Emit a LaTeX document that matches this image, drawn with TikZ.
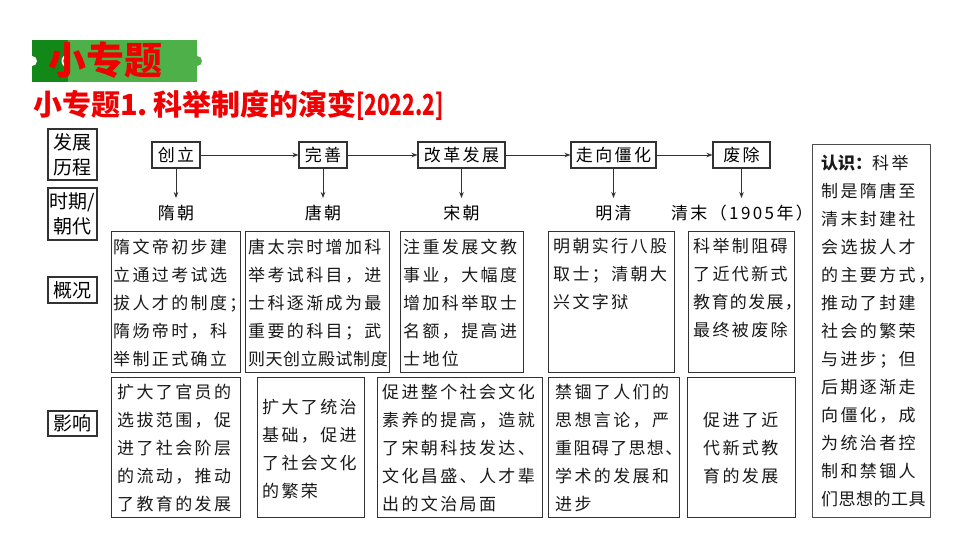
\documentclass[tikz,border=0pt]{standalone}
\usepackage{fontspec}
\usetikzlibrary{arrows.meta}
\newfontfamily\kai[LetterSpace=14]{Noto Sans CJK SC}
\newfontfamily\kaim[LetterSpace=8]{Noto Sans CJK SC}
\newfontfamily\kait[LetterSpace=3]{Noto Sans CJK SC}
\newfontfamily\hei{Noto Sans CJK SC}
\definecolor{tred}{RGB}{240,0,0}
\definecolor{dgreen}{RGB}{18,136,24}
\definecolor{lgreen}{RGB}{78,176,72}
\definecolor{bline}{RGB}{50,50,50}
\newcommand\ftop{\rule{0pt}{16pt}}
\tikzset{
 box/.style={draw=bline, line width=1.1pt, inner sep=0pt, anchor=north west},
 lab/.style={draw=bline, line width=1.1pt, inner sep=0pt, minimum width=49pt, font=\hei\fontsize{19}{25}\selectfont, align=center},
 stage/.style={draw=bline, line width=1.1pt, minimum height=26pt, inner sep=0pt, font=\kai\fontsize{17}{20}\selectfont},
 era/.style={font=\kai\fontsize{17}{20}\selectfont, inner sep=0pt},
 body/.style={anchor=north west, inner sep=0pt, align=left, font=\kai\fontsize{17}{28}\selectfont, text=black!90},
 arr/.style={-{Stealth[length=6pt,width=4.5pt]}, line width=0.8pt, draw=bline},
}
\begin{document}
\begin{tikzpicture}[x=1pt,y=-1pt]
\useasboundingbox[fill=white] (0,0) rectangle (960,540);
% banner
\fill[dgreen] (32,40) rectangle (68,82);
\fill[lgreen] (68,40) rectangle (197,82);
\fill[white] (68,61) circle[radius=6.5];
\fill[lgreen] (68,61) circle[radius=5];
\fill[lgreen] (68,54.5) rectangle (76,67.5);
\fill[white] (32,61) circle[radius=5];
\fill[lgreen] (197,61) circle[radius=5];
\node[font=\hei\bfseries\fontsize{38}{40}\selectfont, text=tred, inner sep=0pt] (ban) at (105,60) {小专题};
\node[font=\hei\bfseries\fontsize{29}{31}\selectfont, text=tred, inner sep=0pt, anchor=west] (title) at (33,105) {小专题1.\hspace{5pt}科举制度的演变\scalebox{0.72}[1]{[2022.2]}};
% row labels
\node[lab, minimum height=51pt] (l1) at (72.5,154.5) {发展\\历程};
\node[lab, minimum height=52pt] (l2) at (72.5,214) {时期/\\朝代};
\node[lab, minimum height=26pt] (l3) at (72.5,290) {概况};
\node[lab, minimum height=25pt] (l4) at (72.5,423.5) {影响};
% stages
\node[stage, minimum width=48pt] (s1) at (176,155) {创立};
\node[stage, minimum width=48pt] (s2) at (323,155) {完善};
\node[stage, minimum width=87pt] (s3) at (461.5,155) {改革发展};
\node[stage, minimum width=85pt] (s4) at (613.5,155) {走向僵化};
\node[stage, minimum width=57pt] (s5) at (741.5,155) {废除};
\draw[arr] (s1) -- (s2);
\draw[arr] (s2) -- (s3);
\draw[arr] (s3) -- (s4);
\draw[arr] (s4) -- (s5);
\coordinate (d1) at (176,198);
\coordinate (d2) at (323,198);
\coordinate (d3) at (461.5,198);
\coordinate (d4) at (613.5,198);
\coordinate (d5) at (741.5,198);
\draw[arr] (s1.south) -- (d1);
\draw[arr] (s2.south) -- (d2);
\draw[arr] (s3.south) -- (d3);
\draw[arr] (s4.south) -- (d4);
\draw[arr] (s5.south) -- (d5);
\node[era] (e1) at (176,213) {隋朝};
\node[era] (e2) at (323,213) {唐朝};
\node[era] (e3) at (461.5,213) {宋朝};
\node[era] (e4) at (613.5,213) {明清};
\node[era] (e5) at (742,213) {清末（1905年）};
% middle boxes
\node[box, minimum width=129pt, minimum height=141pt] (m1) at (111,231) {};
\node[box, minimum width=144pt, minimum height=141pt] (m2) at (245,231) {};
\node[box, minimum width=123pt, minimum height=141pt] (m3) at (400,231) {};
\node[box, minimum width=126pt, minimum height=141pt] (m4) at (548,231) {};
\node[box, minimum width=106pt, minimum height=141pt] (m5) at (688,231) {};
\node[body] (m1t) at (113,237) {\ftop 隋文帝初步建\\立通过考试选\\拔人才的制度；\\隋炀帝时，科\\举制正式确立};
\node[body] (m2t) at (248,237) {\ftop 唐太宗时增加科\\举考试科目，进\\士科逐渐成为最\\重要的科目；武\\{\kait 则天创立殿试制度}};
\node[body] (m3t) at (403,237) {\ftop 注重发展文教\\事业，大幅度\\增加科举取士\\名额，提高进\\士地位};
\node[body] (m4t) at (553,236) {\ftop 明朝实行八股\\取士；清朝大\\兴文字狱};
\node[body] (m5t) at (693,236) {\ftop 科举制阻碍\\了近代新式\\{\kaim 教育的发展，}\\最终被废除};
% bottom boxes
\node[box, minimum width=129pt, minimum height=140pt] (b1) at (111,377) {};
\node[box, minimum width=107pt, minimum height=140pt] (b2) at (257,377) {};
\node[box, minimum width=165pt, minimum height=140pt] (b3) at (377,377) {};
\node[box, minimum width=131pt, minimum height=140pt] (b4) at (548,377) {};
\node[box, minimum width=108pt, minimum height=140pt] (b5) at (687,377) {};
\node[body] (b1t) at (117,382.5) {\ftop 扩大了官员的\\选拔范围，促\\进了社会阶层\\的流动，推动\\了教育的发展};
\node[body] (b2t) at (262,397.5) {\ftop 扩大了统治\\基础，促进\\了社会文化\\的繁荣};
\node[body] (b3t) at (382,382) {\ftop 促进整个社会文化\\素养的提高，造就\\了宋朝科技发达、\\文化昌盛、人才辈\\出的文治局面};
\node[body] (b4t) at (555,382.5) {\ftop 禁锢了人们的\\思想言论，严\\{\kaim 重阻碍了思想、}\\学术的发展和\\进步};
\node[body] (b5t) at (703,410.5) {\ftop 促进了近\\代新式教\\育的发展};
% right box
\node[box, draw=black!70, line width=1.3pt, minimum width=118pt, minimum height=373pt] (r) at (812,144) {};
\node[body] (rt) at (821,153.5) {\ftop {\hei\bfseries 认识：}科举\\制是隋唐至\\清末封建社\\会选拔人才\\的主要方式，\\推动了封建\\社会的繁荣\\与进步；但\\后期逐渐走\\向僵化，成\\为统治者控\\制和禁锢人\\{\kait 们思想的工具}};
\end{tikzpicture}
\end{document}
